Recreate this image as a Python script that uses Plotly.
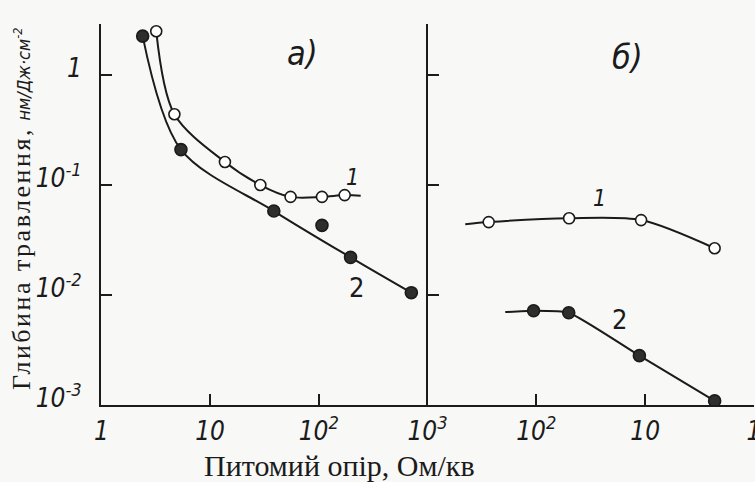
import plotly.graph_objects as go

# ---- panel а): etch depth vs sheet resistance ----
a1_x = [3.2, 4.7, 13.7, 29, 55, 107, 173]
a1_y = [2.5, 0.44, 0.162, 0.10, 0.078, 0.078, 0.081]
a1_tail_x = [243]
a1_tail_y = [0.080]

a2_x = [2.4, 5.4, 38.6, 107, 196, 710]
a2_y = [2.26, 0.21, 0.058, 0.043, 0.022, 0.0105]
a2_curve_skip = 3  # off-curve point, shown as a marker only

# ---- panel б) ----
b1_x = [274, 50, 10.9, 2.3]
b1_y = [0.046, 0.0498, 0.048, 0.0266]
b1_head_x = [450]
b1_head_y = [0.044]

b2_x = [106, 50.4, 11.3, 2.3]
b2_y = [0.0072, 0.0069, 0.00281, 0.00109]
b2_head_x = [193]
b2_head_y = [0.0070]

x_a_ticks = [1, 10, 100, 1000]
x_a_text = ["1", "10", "10<sup>2</sup>", "10<sup>3</sup>"]
x_b_ticks = [100, 10, 1]
x_b_text = ["10<sup>2</sup>", "10", "1"]
y_ticks = [1, 0.1, 0.01, 0.001]
y_text = ["1", "10<sup>-1</sup>", "10<sup>-2</sup>", "10<sup>-3</sup>"]

INK = "#1b1b1b"
PAPER = "#f8f8f6"
HAND = ("DejaVu Sans Condensed, Liberation Sans Narrow, Liberation Sans, "
        "sans-serif")
SERIF = "Liberation Serif, Times New Roman, serif"

fig = go.Figure()

def curve(x, y, xa, ya, smooth=0.9):
    fig.add_trace(go.Scatter(x=x, y=y, mode="lines", xaxis=xa, yaxis=ya,
                             line=dict(color=INK, width=2, shape="spline",
                                       smoothing=smooth),
                             hoverinfo="skip", showlegend=False))

def points(x, y, xa, ya, filled):
    fig.add_trace(go.Scatter(
        x=x, y=y, mode="markers", xaxis=xa, yaxis=ya, showlegend=False,
        marker=dict(size=11 if not filled else 12,
                    color="#2e2e2e" if filled else "white",
                    line=dict(color=INK, width=1.6))))

# panel а)
curve(a1_x + a1_tail_x, a1_y + a1_tail_y, "x", "y")
a2_cx = [v for i, v in enumerate(a2_x) if i != a2_curve_skip]
a2_cy = [v for i, v in enumerate(a2_y) if i != a2_curve_skip]
curve(a2_cx, a2_cy, "x", "y")
points(a1_x, a1_y, "x", "y", False)
points(a2_x, a2_y, "x", "y", True)

# panel б)
curve(b1_head_x + b1_x, b1_head_y + b1_y, "x2", "y2", 0.8)
curve(b2_head_x + b2_x, b2_head_y + b2_y, "x2", "y2", 0.5)
points(b1_x, b1_y, "x2", "y2", False)
points(b2_x, b2_y, "x2", "y2", True)

tickfont = dict(family=HAND, size=26, color=INK, style="italic")
common = dict(type="log", showline=True, linecolor=INK, linewidth=2,
              ticks="inside", ticklen=11, tickwidth=2, tickcolor=INK,
              showgrid=False, zeroline=False, tickfont=tickfont,
              automargin=False, ticklabeloverflow="allow")

fig.update_layout(
    width=755, height=482,
    margin=dict(l=101, r=1, t=24, b=77),
    paper_bgcolor=PAPER, plot_bgcolor=PAPER,
    xaxis=dict(domain=[0, 0.5], range=[-0.003, 3], anchor="y",
               tickvals=x_a_ticks, ticktext=x_a_text,
               ticklabelstandoff=2, **common),
    xaxis2=dict(domain=[0.5, 1], range=[3, 0], anchor="y2",
                tickvals=x_b_ticks, ticktext=x_b_text,
                ticklabelstandoff=2, **common),
    yaxis=dict(range=[-3, 0.464], anchor="x", tickvals=y_ticks,
               ticktext=y_text, ticklabelstandoff=12, ticklabelshift=-7,
               **common),
    yaxis2=dict(range=[-3, 0.464], anchor="x2", tickvals=y_ticks,
                showticklabels=False, **common),
)

def label(text, x, y, xa, ya, size, italic=True):
    fig.add_annotation(text=text, x=x, y=y, xref=xa, yref=ya,
                       showarrow=False,
                       font=dict(family=HAND, size=size, color=INK,
                                 style="italic" if italic else "normal"))

label("а)", 1.85, 0.20, "x", "y", 34)
label("1", 2.31, -0.927, "x", "y", 23)
label("2", 2.35, -1.936, "x", "y", 27, italic=False)
label("б)", 1.16, 0.164, "x2", "y2", 34)
label("1", 1.42, -1.118, "x2", "y2", 23)
label("2", 1.235, -2.227, "x2", "y2", 27, italic=False)

fig.add_annotation(
    text=('<span style="letter-spacing:2.5px">Глибина травлення,</span> '
          '<span style="font-family:DejaVu Sans Condensed, Liberation Sans; '
          'font-size:18px"><i>нм/Дж·см<sup>-2</sup></i></span>'),
    xref="paper", yref="paper", x=-0.122, y=0.515, textangle=-90,
    xanchor="center", yanchor="middle",
    showarrow=False, font=dict(family=SERIF, size=26, color=INK))

fig.add_annotation(
    text="Питомий опір, Ом/кв", xref="paper", yref="paper",
    x=0.366, y=-0.16, xanchor="center", yanchor="middle", showarrow=False,
    font=dict(family=SERIF, size=30, color=INK))

fig.write_html("out.html")
